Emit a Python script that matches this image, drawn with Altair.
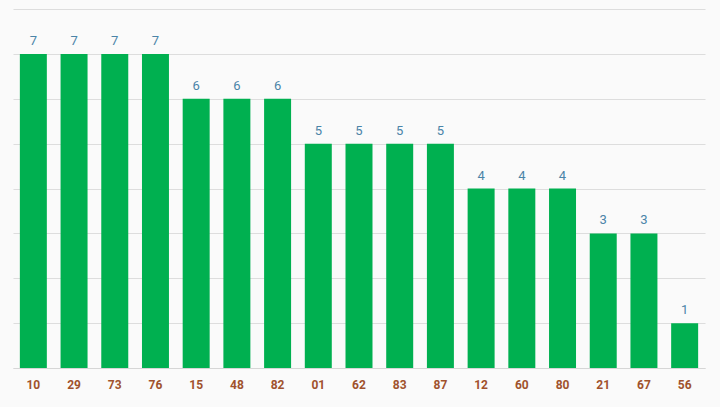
import altair as alt
import pandas as pd

categories = ["10", "29", "73", "76", "15", "48", "82", "01", "62", "83", "87", "12", "60", "80", "21", "67", "56"]
values = [7, 7, 7, 7, 6, 6, 6, 5, 5, 5, 5, 4, 4, 4, 3, 3, 1]
grid_values = [0, 1, 2, 3, 4, 5, 6, 7, 8]

df = pd.DataFrame({"cat": categories, "val": values})

x = alt.X("cat:N", sort=categories, title=None,
          scale=alt.Scale(paddingInner=0.337, paddingOuter=0.1685),
          axis=alt.Axis(labelAngle=0, labelFont="Roboto", labelFontSize=12,
                        labelFontWeight="bold", labelColor="#a0522d",
                        labelPadding=11, ticks=False, domain=True,
                        domainColor="#d6d6d6", grid=False))
y = alt.Y("val:Q", title=None,
          scale=alt.Scale(domain=[0, 8], nice=False),
          axis=alt.Axis(labels=False, ticks=False, domain=False,
                        grid=True, gridColor="#dddddd",
                        values=grid_values))

bars = alt.Chart(df).mark_bar(color="#00b050").encode(x=x, y=y)
text = alt.Chart(df).mark_text(dy=-13, font="Roboto", fontSize=13,
                                color="#4a84a8").encode(x=x, y=y, text="val:Q")

chart = (bars + text).properties(
    width=692, height=359,
    background="#fafafa",
    padding={"left": 13, "top": 9, "right": 15, "bottom": 39},
    autosize=alt.AutoSizeParams(type="none"),
).configure_view(stroke=None)

chart.save("out.html", embed_options={"renderer": "svg", "actions": False})
